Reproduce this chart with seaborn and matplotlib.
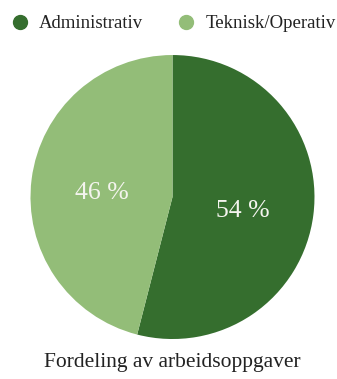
import matplotlib
matplotlib.use("Agg")
import matplotlib.pyplot as plt
import seaborn as sns
from matplotlib.lines import Line2D

categories = ["Administrativ", "Teknisk/Operativ"]
shares = [54, 46]
title = "Fordeling av arbeidsoppgaver"

sns.set_theme(style="white")
plt.rcParams["font.family"] = ["Liberation Serif", "DejaVu Serif"]

palette = sns.color_palette(["#356e2e", "#93bd78"])

fig = plt.figure(figsize=(3.37, 3.79), dpi=100)
ax = fig.add_axes([0.089, 0.1055, 0.8457, 0.7493])

wedges, texts, autotexts = ax.pie(
    shares,
    colors=palette,
    startangle=90,
    counterclock=False,
    autopct=lambda p: f"{p:.0f} %",
    pctdistance=0.5,
    wedgeprops=dict(linewidth=0),
    textprops=dict(color="#f4f4ee", fontsize=18.5),
)
# nudge the percentage labels slightly below the optical centre line
for t in autotexts:
    x, y = t.get_position()
    t.set_position((x, y - 0.035))

ax.set_xlim(-1, 1)
ax.set_ylim(-1, 1)
ax.set_aspect("equal")

handles = [
    Line2D([0], [0], marker="o", linestyle="", markersize=10,
           markerfacecolor=c, markeredgecolor=c)
    for c in palette
]
fig.legend(handles, categories, loc="center", bbox_to_anchor=(0.517, 0.937),
           ncol=2, frameon=False, fontsize=13.5, handlelength=0.8,
           handletextpad=0.6, columnspacing=1.9, labelcolor="#222222")

fig.text(0.512, 0.043, title, ha="center", va="center", fontsize=15.5,
         color="#222222")

fig.savefig("out.png", dpi=100)
